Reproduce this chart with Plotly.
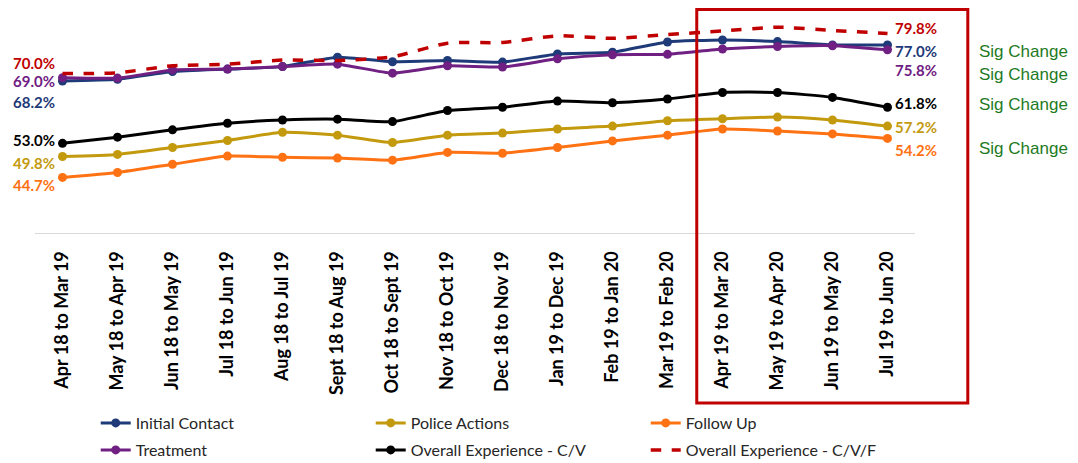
import plotly.graph_objects as go

periods = ["Apr 18 to Mar 19", "May 18 to Apr 19", "Jun 18 to May 19", "Jul 18 to Jun 19",
           "Aug 18 to Jul 19", "Sept 18 to Aug 19", "Oct 18 to Sept 19", "Nov 18 to Oct 19",
           "Dec 18 to Nov 19", "Jan 19 to Dec 19", "Feb 19 to Jan 20", "Mar 19 to Feb 20",
           "Apr 19 to Mar 20", "May 19 to Apr 20", "Jun 19 to May 20", "Jul 19 to Jun 20"]

initial_contact = [68.2, 68.6, 70.5, 71.1, 71.7, 74.0, 72.9, 73.2, 72.8, 74.8, 75.2, 77.7, 78.2, 77.8, 77.0, 77.0]
treatment = [69.0, 68.9, 70.9, 71.1, 71.7, 72.3, 70.1, 71.9, 71.6, 73.6, 74.6, 74.7, 76.0, 76.6, 76.8, 75.8]
police_actions = [49.8, 50.3, 52.0, 53.7, 55.7, 55.0, 53.2, 55.0, 55.5, 56.5, 57.2, 58.5, 59.0, 59.4, 58.7, 57.2]
follow_up = [44.7, 45.9, 47.9, 49.9, 49.6, 49.4, 48.9, 50.8, 50.6, 52.0, 53.6, 55.0, 56.5, 56.0, 55.3, 54.2]
overall_cv = [53.0, 54.5, 56.3, 57.9, 58.7, 58.9, 58.3, 61.0, 61.8, 63.3, 62.9, 63.8, 65.4, 65.4, 64.2, 61.8]
overall_cvf = [70.0, 70.2, 71.9, 72.3, 73.3, 73.2, 74.1, 77.4, 77.6, 79.2, 78.6, 79.5, 80.4, 81.3, 80.5, 79.8]

# name, values, colour, dash, start label shift, end label shift, legend row
series = [
    ("Initial Contact", initial_contact, "#1F3A78", "solid", -21, -6, "legend"),
    ("Police Actions", police_actions, "#C39A0E", "solid", -7, -1, "legend"),
    ("Follow Up", follow_up, "#FF7213", "solid", -8, -12, "legend"),
    ("Treatment", treatment, "#702082", "solid", -3, -20, "legend2"),
    ("Overall Experience - C/V", overall_cv, "#000000", "solid", 3, 4, "legend2"),
    ("Overall Experience - C/V/F", overall_cvf, "#C00000", "dash", 11, 5, "legend2"),
]

sig_y = [0.812, 0.709, 0.574, 0.381]

fig = go.Figure()
for name, vals, col, dash, s0, s1, leg in series:
    if dash == "dash":
        fig.add_trace(go.Scatter(x=periods, y=vals, name=name, mode="lines", legend=leg,
                                 line=dict(color=col, width=3.5, dash="dash", shape="spline", smoothing=0.6)))
    else:
        fig.add_trace(go.Scatter(x=periods, y=vals, name=name, mode="lines+markers", legend=leg,
                                 line=dict(color=col, width=3, shape="spline", smoothing=0.5),
                                 marker=dict(size=9, color=col)))
    fig.add_annotation(x=periods[0], y=vals[0], text="%.1f%%" % vals[0], showarrow=False,
                       xanchor="right", xshift=-6, yshift=s0,
                       font=dict(family="Lato", size=15, color=col, weight="bold"))
    fig.add_annotation(x=periods[-1], y=vals[-1], text="%.1f%%" % vals[-1], showarrow=False,
                       xanchor="left", xshift=5, yshift=s1,
                       font=dict(family="Lato", size=15, color=col, weight="bold"))

for sy in sig_y:
    fig.add_annotation(x=1.123, y=sy, xref="paper", yref="paper", text="Sig Change",
                       xanchor="center", yanchor="middle", showarrow=False,
                       font=dict(family="Liberation Sans", size=17, color="#1E7A1E"))

fig.add_shape(type="rect", xref="paper", yref="paper", x0=0.752, x1=1.06, y0=-0.762, y1=1.002,
              line=dict(color="#C00000", width=3))

leg_style = dict(orientation="h", x=0.069, xanchor="left", yanchor="middle",
                 entrywidth=230, font=dict(family="Lato", size=16, color="#262626"), itemwidth=30)

# page body adds an 8px offset, so the figure is sized to fit inside the window
fig.update_layout(
    width=1070, height=455,
    margin=dict(l=27, r=163, t=2, b=230, autoexpand=False),
    plot_bgcolor="white", paper_bgcolor="white",
    showlegend=True,
    legend=dict(leg_style, y=-0.852),
    legend2=dict(leg_style, y=-0.973),
)
fig.update_xaxes(tickangle=-90, showline=True, linecolor="#D9D9D9", linewidth=1,
                 showgrid=False, ticks="", ticklabelstandoff=10, automargin=False,
                 range=[-0.5, len(periods) - 0.5],
                 tickfont=dict(family="Lato", size=18, color="#000000", weight="bold"))
fig.update_yaxes(range=[31.15, 85.5], visible=False, showgrid=False, automargin=False)

fig.write_html("out.html")
